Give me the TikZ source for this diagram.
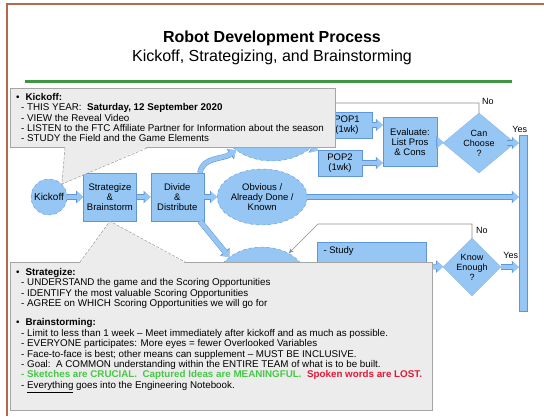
\documentclass[tikz,border=0pt]{standalone}
\usepackage{fontspec}
\setmainfont{Liberation Sans}
\usepackage{tikz}
\usetikzlibrary{positioning, arrows.meta, shapes, calc}
\usepackage{xcolor}

\definecolor{flowfill}{RGB}{150,198,244}
\definecolor{flowedge}{RGB}{95,150,215}
\definecolor{notefill}{RGB}{236,236,236}
\definecolor{noteedge}{RGB}{165,165,165}
\definecolor{framebrown}{RGB}{181,105,74}
\definecolor{rulegreen}{RGB}{64,150,64}
\definecolor{goodgreen}{RGB}{70,200,70}
\definecolor{badred}{RGB}{225,25,55}

\begin{document}
\begin{tikzpicture}[x=1pt, y=-1pt, node distance=14pt,
  flowbox/.style={rectangle, draw=flowedge, fill=flowfill, align=center, inner sep=1pt, font=\fontsize{9.5}{10}\selectfont},
  flowell/.style={ellipse, draw=flowedge, dashed, fill=flowfill, align=center, inner sep=0pt, font=\fontsize{9.5}{10}\selectfont},
  decide/.style={diamond, draw=flowedge!70, fill=flowfill, align=center, inner sep=0pt, font=\fontsize{9}{10}\selectfont},
  blockarrow/.style={draw=flowfill, line width=4.5pt, -{Triangle[length=6pt, width=11pt, line width=0pt]},
    preaction={draw=flowedge, line width=5.5pt, -{Triangle[length=7pt, width=12.5pt, line width=0pt]}}},
  loopline/.style={draw=black!45, line width=0.6pt},
  lbl/.style={font=\fontsize{9}{10}\selectfont, inner sep=0pt},
  notebox/.style={rectangle, draw=noteedge, fill=notefill, line width=0.6pt},
  notetext/.style={anchor=north west, align=left, inner sep=0pt, font=\fontsize{9.8}{10.4}\selectfont},
  pointer/.style={fill=notefill},
  pointeredge/.style={draw=black!40, line width=0.5pt, dash pattern=on 3pt off 1.5pt}]
\useasboundingbox (0,0) rectangle (544,416);

% slide frame and heading
\draw[framebrown, line width=2pt] (544,4) -- (7,4) -- (7,416);
\node[font=\fontsize{16}{19}\selectfont\bfseries] (title) at (272,38) {Robot Development Process};
\node[font=\fontsize{16}{19}\selectfont, below=-3pt of title] (subtitle) {Kickoff, Strategizing, and Brainstorming};
\draw[rulegreen, line width=3pt] (25,81) -- (512,81);

% flow
\node[flowell, circle, minimum size=36pt, font=\fontsize{10}{10}\selectfont] (kick) at (49,197) {Kickoff};
\node[flowbox, minimum width=53pt, minimum height=48pt, right=16pt of kick] (strat) {Strategize\\\&\\Brainstorm};
\node[flowbox, minimum width=53pt, minimum height=48pt, right=of strat] (div) {Divide\\\&\\Distribute};
\node[flowell, minimum width=90pt, minimum height=56pt, right=13pt of div] (obv) {Obvious /\\Already Done /\\Known};
\node[flowell, minimum width=100pt, minimum height=72pt] (topell) at (272,125) {};
\node[flowell, minimum width=90pt, minimum height=66pt] (botell) at (262,280) {};
\node[flowbox, minimum width=50pt, minimum height=26pt] (pop1) at (347,125) {POP1\\(1wk)};
\node[flowbox, minimum width=44pt, minimum height=26pt] (pop2) at (340,163) {POP2\\(1wk)};
\node[flowbox, minimum width=54pt, minimum height=49pt] (eval) at (410,142) {Evaluate:\\List Pros\\\& Cons};
\node[decide, minimum width=72pt, minimum height=60pt] (canch) at (479,143) {Can\\Choose\\?};
\node[flowbox, minimum width=8pt, minimum height=176pt, inner sep=0pt] (bar) at (523,223) {};
\node[flowbox, minimum width=109pt, minimum height=48pt] (study) at (372,266) {};
\node[lbl, anchor=north west, font=\fontsize{9.5}{10}\selectfont] (studytext) at ([shift={(6,5)}]study.north west) {- Study};
\node[decide, minimum width=58pt, minimum height=58pt] (know) at (472,267) {Know\\Enough\\?};

\draw[blockarrow] (kick) -- (strat);
\draw[blockarrow] (strat) -- (div);
\draw[blockarrow] (div) -- (obv);
\draw[blockarrow] ([xshift=-4pt]div.north east) to[out=80, in=215] (topell.215);
\draw[blockarrow] ([xshift=-4pt]div.south east) -- (botell.145);
\draw[blockarrow] (topell) -- (pop1);
\draw[blockarrow] (topell) -- (pop2);
\draw[blockarrow] (pop1) -- (pop1 -| eval.west);
\draw[blockarrow] (pop2) -- (pop2 -| eval.west);
\draw[blockarrow] (eval) -- (canch);
\draw[blockarrow] ([xshift=-8pt]canch.east) -- (canch.east -| bar.west);
\draw[blockarrow] (obv) -- (obv -| bar.west);
\draw[blockarrow] (study) -- (know);
\draw[blockarrow] (know.east) -- (know.east -| bar.west);

% no-loops
\coordinate (canback) at (300,103);
\draw[loopline, -{Stealth[length=5pt, width=4pt]}] (canch.north) |- (canback) -- (topell);
\coordinate (knowback) at (318,224);
\draw[loopline, -{Stealth[length=5pt, width=4pt]}] (know.north) |- (knowback) -- (botell);
\node[lbl, above right=8pt and 3pt of canch.north] {No};
\node[lbl, above right=10pt and -3pt of canch.east] {Yes};
\node[lbl, above right=4pt and 4pt of know.north] {No};
\node[lbl, above right=8pt and 2pt of know.east] {Yes};

% call-outs
\node[notebox, anchor=north west, minimum width=325pt, minimum height=59pt] (kickbox) at (10,88) {};
\fill[pointer] ([shift={(55,-1)}]kickbox.south west) -- (kick.north east) -- ([shift={(138,-1)}]kickbox.south west) -- cycle;
\draw[pointeredge] ([xshift=55pt]kickbox.south west) -- (kick.north east) -- ([xshift=138pt]kickbox.south west);
\node[notetext] (kicktext) at ([shift={(6,5)}]kickbox.north west) {%
\textbullet\hspace{6pt}\textbf{Kickoff:}\\
\hspace*{5pt}- THIS YEAR:\ \ \textbf{Saturday, 12 September 2020}\\
\hspace*{5pt}- VIEW the Reveal Video\\
\hspace*{5pt}- LISTEN to the FTC Affiliate Partner for Information about the season\\
\hspace*{5pt}- STUDY the Field and the Game Elements};

\node[notebox, anchor=north west, minimum width=422pt, minimum height=148pt] (stratbox) at (10,262) {};
\fill[pointer] ([shift={(70,1)}]stratbox.north west) -- (strat.south) -- ([shift={(175,1)}]stratbox.north west) -- cycle;
\draw[pointeredge] ([xshift=70pt]stratbox.north west) -- (strat.south) -- ([xshift=175pt]stratbox.north west);
\node[notetext] (strattext) at ([shift={(6,6)}]stratbox.north west) {%
\textbullet\hspace{6pt}\textbf{Strategize:}\\
\hspace*{5pt}- UNDERSTAND the game and the Scoring Opportunities\\
\hspace*{5pt}- IDENTIFY the most valuable Scoring Opportunities\\
\hspace*{5pt}- AGREE on WHICH Scoring Opportunities we will go for\\[9pt]
\textbullet\hspace{6pt}\textbf{Brainstorming:}\\
\hspace*{5pt}- Limit to less than 1 week -- Meet immediately after kickoff and as much as possible.\\
\hspace*{5pt}- EVERYONE participates: More eyes = fewer Overlooked Variables\\
\hspace*{5pt}- Face-to-face is best; other means can supplement -- MUST BE INCLUSIVE.\\
\hspace*{5pt}- Goal:\ \ A COMMON understanding within the ENTIRE TEAM of what is to be built.\\
\hspace*{5pt}\textcolor{goodgreen}{\textbf{- Sketches are CRUCIAL.\ \ Captured Ideas are MEANINGFUL.}}\ \ \textcolor{badred}{\textbf{Spoken words are LOST.}}\\
\hspace*{5pt}- \underline{Everything} goes into the Engineering Notebook.};
\end{tikzpicture}
\end{document}
